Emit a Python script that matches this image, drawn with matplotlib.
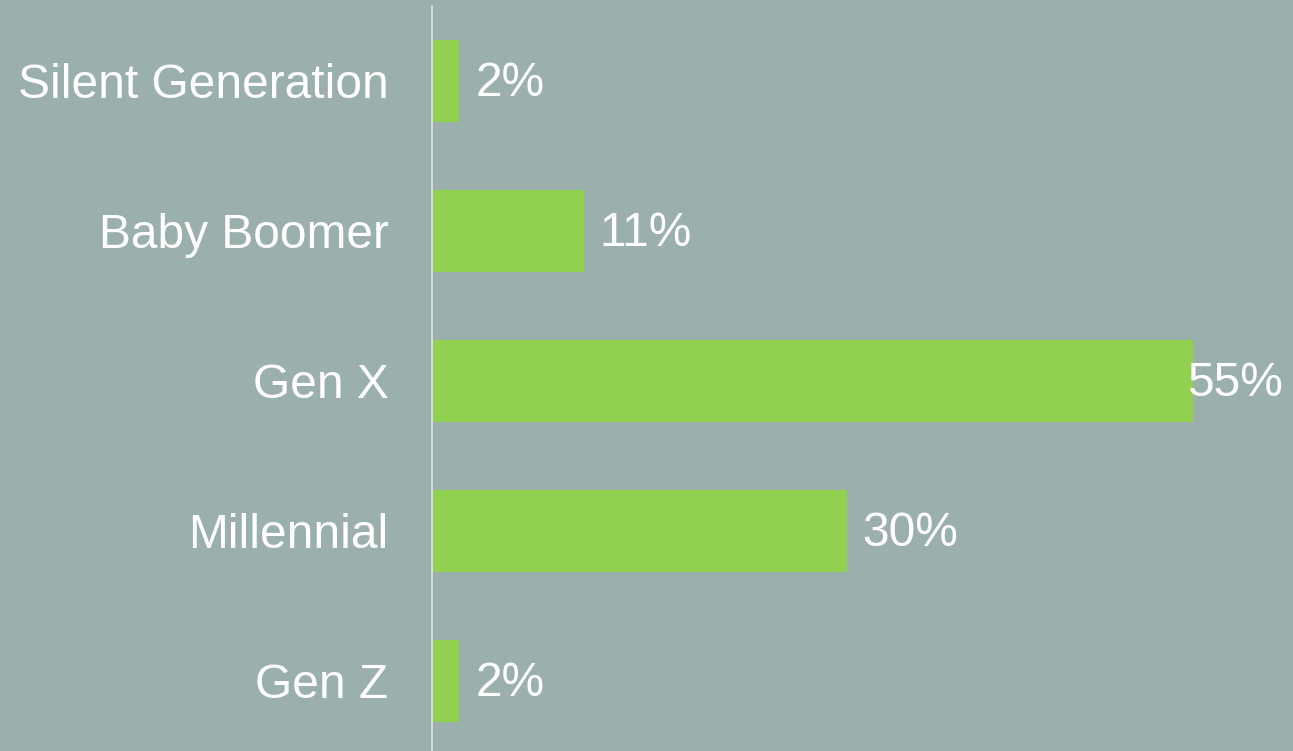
import matplotlib
matplotlib.use("Agg")
from matplotlib import pyplot

BG = '#9BAFAD'
BAR = '#92D050'
AXIS = '#D9D9D9'

FONT = {'family': 'Liberation Sans',
		'size': 34.5}
matplotlib.rc('font', **FONT)

categories = ['Silent Generation', 'Baby Boomer', 'Gen X', 'Millennial', 'Gen Z']
values = [2, 11, 55, 30, 2]
labels = ['2%', '11%', '55%', '30%', '2%']

W, H = 1293, 751
dpi = 100.0
fig = pyplot.figure(figsize=(W / dpi, H / dpi), dpi=dpi, facecolor=BG)

# axes placed in pixels: left spine at x=431.5, category bands from y=6 to y=756
left = 431.5
top = 6
bottom = 756
ax = fig.add_axes([left / W, (H - bottom) / H, (W - left) / W, (bottom - top) / H])
ax.set_facecolor(BG)

pxper = 13.84  # pixels per percent
xmax = (W - left) / pxper
ypos = list(range(len(categories)))
ax.barh(ypos, values, height=0.55, color=BAR, zorder=2)

ax.set_xlim(0, xmax)
ax.set_ylim(len(categories) - 0.5, -0.5)
ax.set_yticks(ypos)
ax.set_yticklabels(categories, color='white')
ax.tick_params(axis='y', length=0, pad=31)
ax.set_xticks([])

for s in ['top', 'right', 'bottom']:
	ax.spines[s].set_visible(False)
ax.spines['left'].set_color(AXIS)
ax.spines['left'].set_linewidth(1.5)
ax.spines['left'].set_zorder(3)

for i, (v, lab) in enumerate(zip(values, labels)):
	if v + 16 / pxper + 95 / pxper > xmax:
		# no room: label pushed back against the right edge
		ax.annotate(lab, xy=(xmax, i), xytext=(-7, -2), textcoords='offset points',
			ha='right', va='center', color='white', zorder=4)
	else:
		ax.annotate(lab, xy=(v, i), xytext=(11.5, -2), textcoords='offset points',
			ha='left', va='center', color='white', zorder=4)

fig.savefig('out.png', dpi=dpi, facecolor=BG)
